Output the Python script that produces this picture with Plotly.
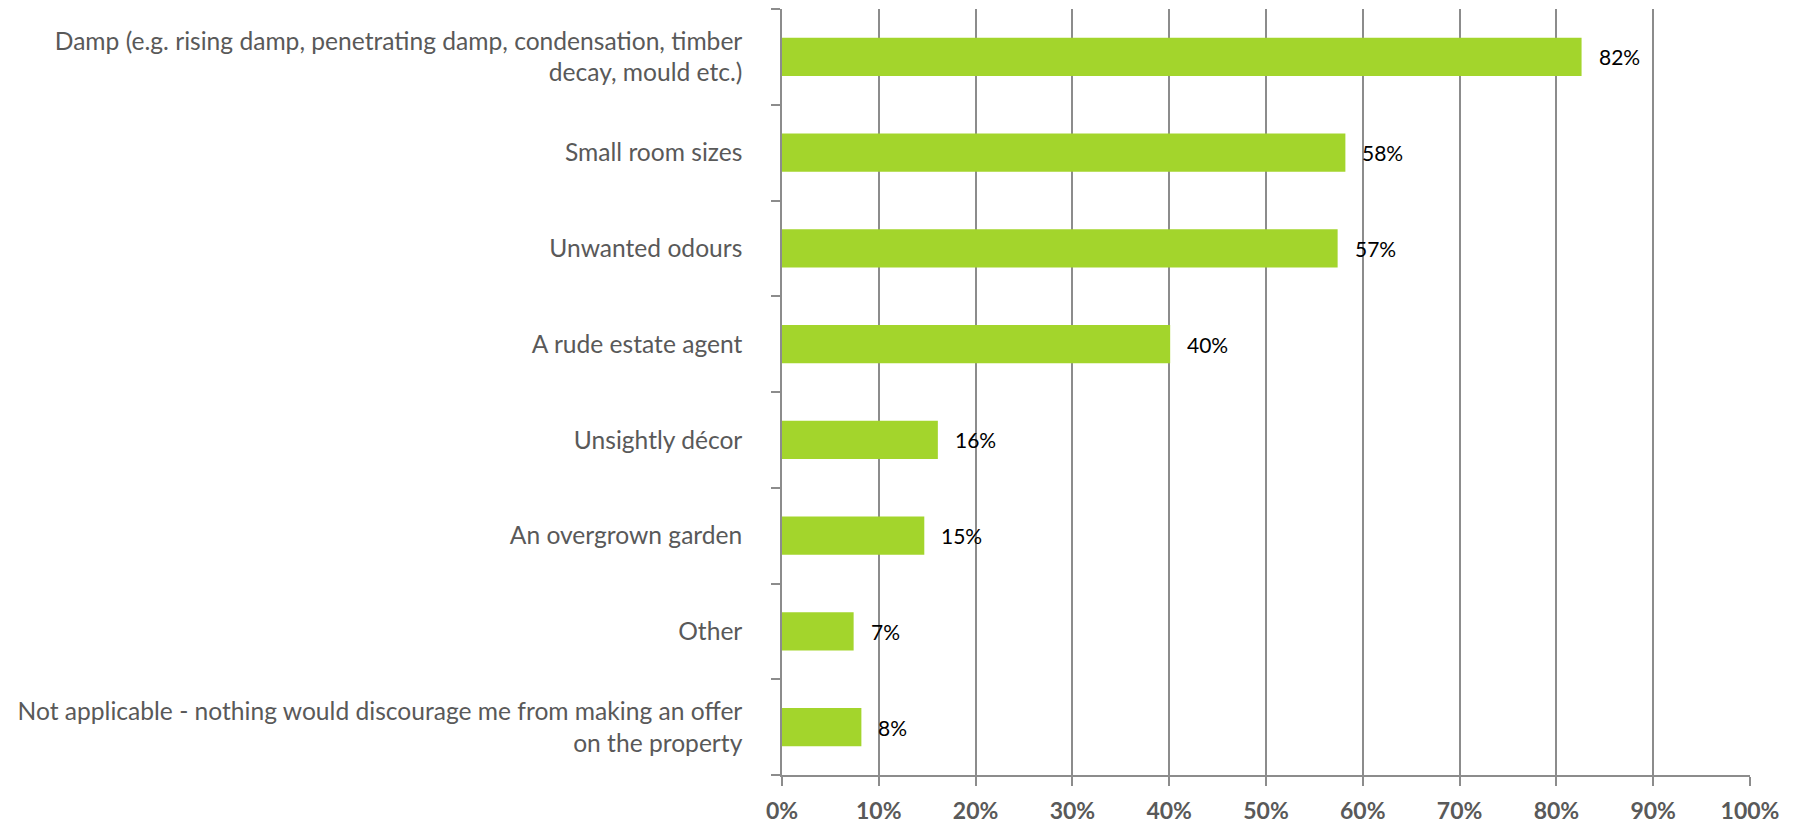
import plotly.graph_objects as go

categories = [
    "Damp (e.g. rising damp, penetrating damp, condensation, timber<br>decay, mould etc.)",
    "Small room sizes",
    "Unwanted odours",
    "A rude estate agent",
    "Unsightly décor",
    "An overgrown garden",
    "Other",
    "Not applicable - nothing would discourage me from making an offer<br>on the property",
]
values = [82.6, 58.2, 57.4, 40.1, 16.1, 14.7, 7.4, 8.2]
labels = ["82%", "58%", "57%", "40%", "16%", "15%", "7%", "8%"]
x_ticks = [0, 10, 20, 30, 40, 50, 60, 70, 80, 90, 100]
x_tick_labels = ["0%", "10%", "20%", "30%", "40%", "50%", "60%", "70%", "80%", "90%", "100%"]

BAR = "#A3D52C"
GRID = "#8C8C8C"
TXT = "#595959"
FONT = "Lato"

fig = go.Figure()
fig.add_trace(go.Bar(
    x=values, y=categories, orientation="h",
    marker=dict(color=BAR, line=dict(width=0)),
    width=0.4, hoverinfo="skip",
))

for v, c, t in zip(values, categories, labels):
    fig.add_annotation(x=v, y=c, text=t, showarrow=False, xanchor="left",
                       yanchor="middle", xshift=15,
                       font=dict(family=FONT, size=21, color="#000000"))

fig.update_layout(
    width=1798, height=823,
    margin=dict(l=774, r=56, t=1, b=56, autoexpand=False),
    plot_bgcolor="white", paper_bgcolor="white",
    showlegend=False,
    bargap=0.6,
    font=dict(family=FONT),
)
fig.update_xaxes(
    range=[0, 100], tickvals=x_ticks, ticktext=x_tick_labels,
    showgrid=True, gridcolor=GRID, gridwidth=1.5,
    showline=True, linecolor=GRID, linewidth=1.5,
    ticks="outside", ticklen=9, tickcolor=GRID, tickwidth=1.5,
    ticklabelstandoff=6,
    tickfont=dict(family=FONT, size=23, color=TXT, weight="bold"),
    zeroline=False, automargin=False, fixedrange=True,
)
fig.update_yaxes(
    categoryorder="array", categoryarray=categories[::-1],
    autorange=False, range=[-0.5, len(categories) - 0.5],
    showgrid=False, showline=True, linecolor=GRID, linewidth=1.5,
    ticks="outside", ticklen=9, tickcolor=GRID, tickwidth=1.5,
    tickson="boundaries", ticklabelstandoff=33,
    tickfont=dict(family=FONT, size=24.6, color=TXT),
    automargin=False, fixedrange=True,
)

fig.write_html("out.html")
